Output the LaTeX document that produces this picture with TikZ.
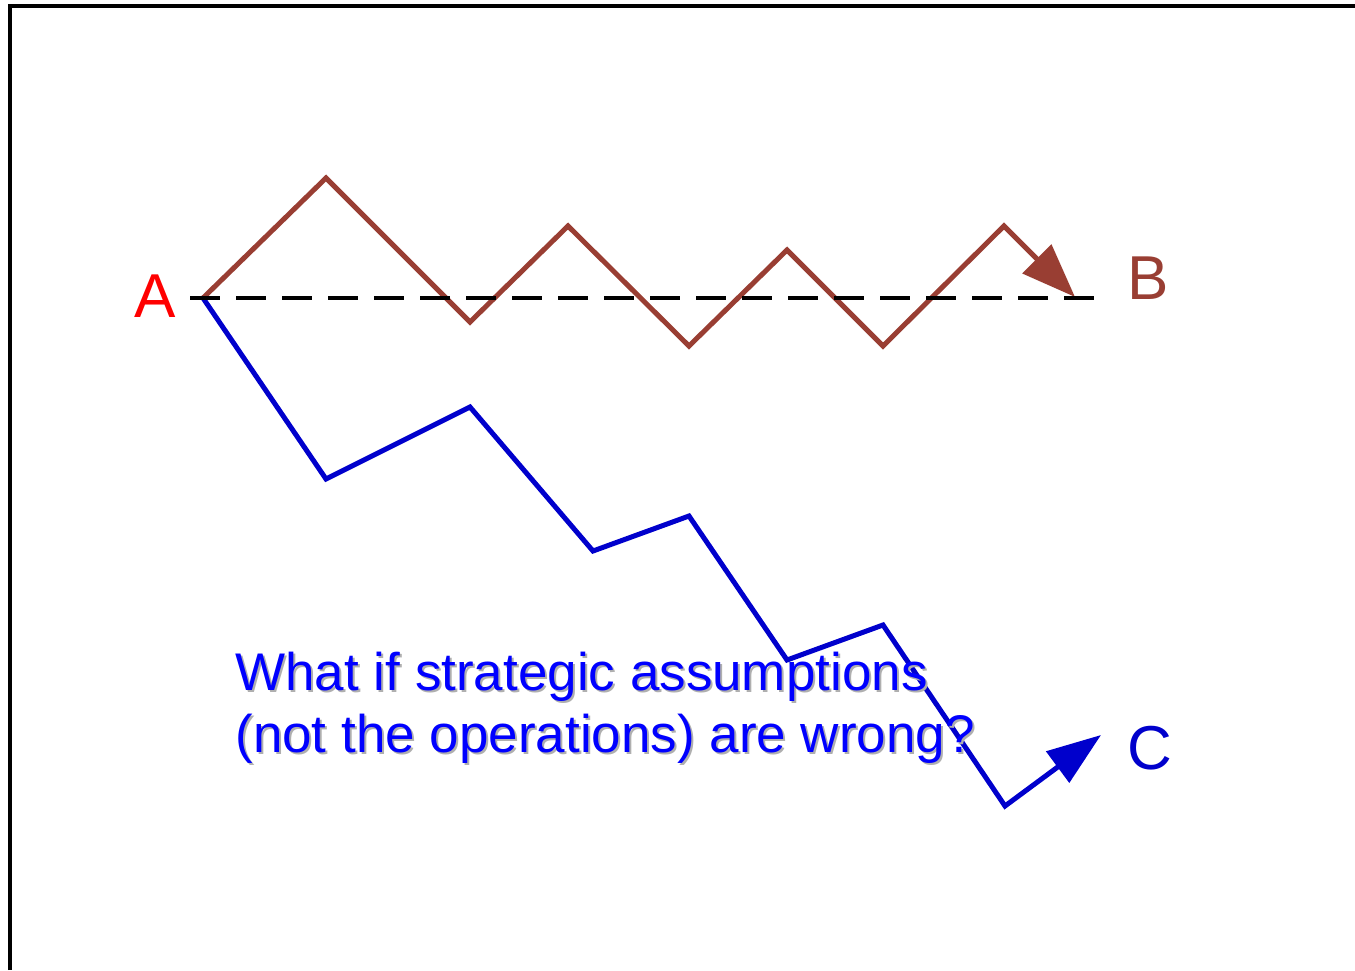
\documentclass[tikz,border=0pt]{standalone}
\usepackage{fontspec}
\setmainfont{Liberation Sans}
\usetikzlibrary{arrows.meta}
\definecolor{pathbrown}{RGB}{153,62,51}
\definecolor{pathblue}{RGB}{0,0,204}
\definecolor{textblue}{RGB}{0,0,255}
\definecolor{shadowgray}{RGB}{175,175,175}
\begin{document}
\begin{tikzpicture}[x=0.5pt,y=-0.5pt,
  framestyle/.style={line width=2pt,black},
  brownpath/.style={line width=2.5pt,pathbrown,line join=miter,
    -{Triangle[length=27pt,width=20pt]}},
  bluepath/.style={line width=2.5pt,pathblue,line join=miter,
    -{Triangle[length=27pt,width=19pt]}},
  baseline/.style={line width=2pt,black,dash pattern=on 15pt off 8pt},
  letter/.style={inner sep=0pt,anchor=base west,font=\fontsize{31}{36}\selectfont},
  question/.style={inner sep=0pt,anchor=base west,font=\fontsize{26.5}{31}\selectfont},
]
\useasboundingbox (0,0) rectangle (1355,970);
% frame
\draw[framestyle] (10,970) -- (10,6) -- (1355,6);
% coordinates
\coordinate (A) at (203,298);
\coordinate (r1) at (326,178);
\coordinate (r2) at (470,322);
\coordinate (r3) at (568,226);
\coordinate (r4) at (689,346);
\coordinate (r5) at (787,250);
\coordinate (r6) at (883,346);
\coordinate (r7) at (1004,226);
\coordinate (rtip) at (1075,297);
\coordinate (b1) at (326,479);
\coordinate (b2) at (470,407);
\coordinate (b3) at (593,551);
\coordinate (b4) at (689,516);
\coordinate (b5) at (787,660);
\coordinate (b6) at (883,625);
\coordinate (b7) at (1005,806);
\coordinate (btip) at (1101,735);
\coordinate (dL) at (190,298);
\coordinate (dR) at (1105,298);
% paths
\draw[brownpath] (A) -- (r1) -- (r2) -- (r3) -- (r4) -- (r5) -- (r6) -- (r7) -- (rtip);
\draw[bluepath] (A) -- (b1) -- (b2) -- (b3) -- (b4) -- (b5) -- (b6) -- (b7) -- (btip);
\draw[baseline] (dL) -- (dR);
% labels
\node[letter,text=red] (la) at (134,317) {A};
\node[letter,text=pathbrown] (lb) at (1127,299) {B};
\node[letter,text=pathblue] (lc) at (1127,769) {C};
% question text with shadow
\node[question,text=shadowgray] (q1s) at (237,692) {What if strategic assumptions};
\node[question,text=shadowgray] (q2s) at (237,754) {(not the operations) are wrong?};
\node[question,text=textblue] (q1) at (235,690) {What if strategic assumptions};
\node[question,text=textblue] (q2) at (235,752) {(not the operations) are wrong?};
\end{tikzpicture}
\end{document}
